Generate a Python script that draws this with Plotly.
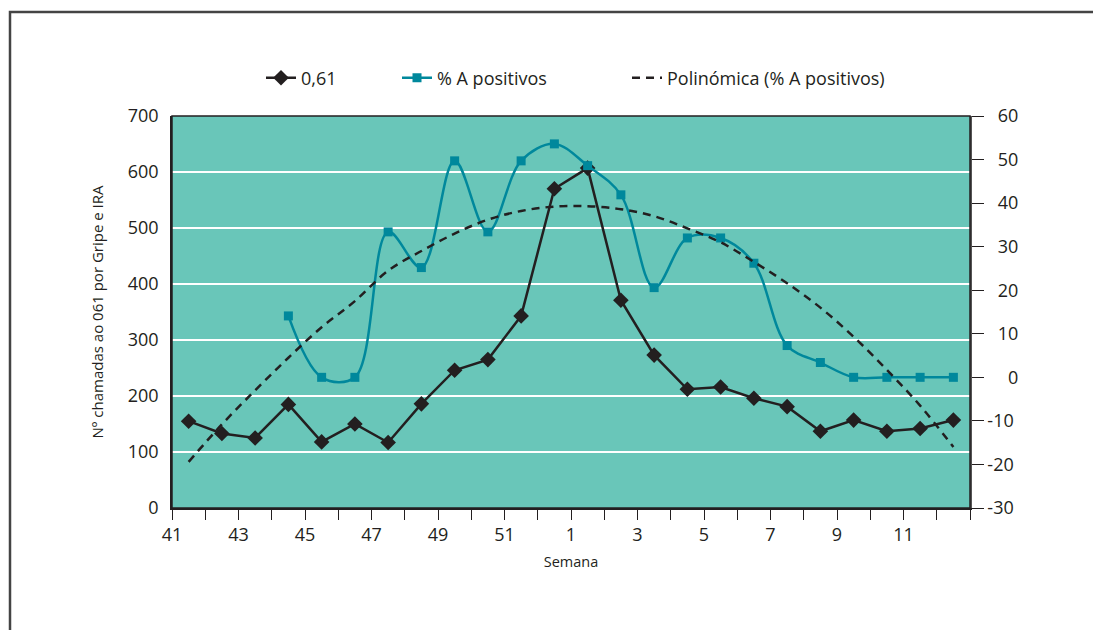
import plotly.graph_objects as go

# Weeks of the 2008/2009 season, 41..52 then 1..12
weeks = [41, 42, 43, 44, 45, 46, 47, 48, 49, 50, 51, 52,
         1, 2, 3, 4, 5, 6, 7, 8, 9, 10, 11, 12]

# Calls to 061 for influenza / acute respiratory infection (left axis)
chamadas = [155, 133, 125, 185, 118, 150, 117, 186, 246, 265, 343, 570,
            607, 371, 273, 212, 216, 196, 181, 137, 157, 137, 142, 157]

# Percentage of positive influenza A samples (right axis)
pct_a = [None, None, None, 14.1, 0.0, 0.0, 33.4, 25.2, 49.7, 33.4, 49.7, 53.6,
         48.6, 41.9, 20.6, 32.0, 32.0, 26.2, 7.3, 3.4, 0.0, 0.0, 0.0, 0.0]

# Polynomial trend of % A positivos (right axis)
tendencia = [-19.4, -10.8, -3.0, 4.5, 11.5, 17.5, 24.5, 29.0, 33.0, 36.2, 38.2, 39.2,
             39.3, 38.6, 37.0, 34.2, 31.0, 26.5, 21.6, 16.0, 9.3, 1.7, -6.5, -16.0]

left_ticks = [0, 100, 200, 300, 400, 500, 600, 700]
right_ticks = [-30, -20, -10, 0, 10, 20, 30, 40, 50, 60]

# points sit in the middle of each week slot; ticks mark the slot boundaries
xpos = [i + 0.5 for i in range(len(weeks))]
xtickvals = list(range(len(weeks) + 1))
xticktext = [str(weeks[i]) if (i < len(weeks) and i % 2 == 0) else "" for i in xtickvals]

INK = "#231F20"
TEAL = "#00889C"
BG = "#69C6B9"
FONT = "Open Sans"

fig = go.Figure()

fig.add_trace(go.Scatter(
    x=xpos, y=chamadas, name="0,61", mode="lines+markers",
    line=dict(color=INK, width=2.5),
    marker=dict(symbol="diamond", size=12, color=INK),
    yaxis="y", legend="legend",
))

fig.add_trace(go.Scatter(
    x=xpos, y=pct_a, name="% A positivos", mode="lines+markers",
    line=dict(color=TEAL, width=2.5, shape="spline", smoothing=1),
    marker=dict(symbol="square", size=9, color=TEAL),
    connectgaps=False, yaxis="y2", legend="legend2",
))

fig.add_trace(go.Scatter(
    x=xpos, y=tendencia, name="Polinómica (% A positivos)", mode="lines",
    line=dict(color=INK, width=2.5, dash="8px,6px", shape="spline", smoothing=1),
    yaxis="y2", legend="legend3",
))

# right-axis labels padded with figure spaces so they line up on the right
def pad(v):
    s = str(v)
    return "\u2007" * (3 - len(s)) + s

legend_common = dict(
    orientation="h", xref="container", yref="container",
    yanchor="middle", xanchor="left", y=1 - 78 / 630,
    font=dict(family=FONT, size=18, color=INK),
    bgcolor="rgba(0,0,0,0)", borderwidth=0,
)

fig.update_layout(
    width=1093, height=630,
    margin=dict(l=172, r=123, t=116, b=122, autoexpand=False),
    paper_bgcolor="white",
    plot_bgcolor=BG,
    font=dict(family=FONT, color=INK),
    xaxis=dict(
        range=[0, len(weeks)], tickvals=xtickvals, ticktext=xticktext,
        ticks="outside", ticklen=10, tickwidth=1.2, tickcolor=INK,
        showline=True, linecolor=INK, linewidth=1.5,
        showgrid=False, zeroline=False, automargin=False,
        tickfont=dict(family=FONT, size=18, color=INK),
        title=dict(text="Semana", font=dict(family=FONT, size=14.5, color=INK), standoff=12),
    ),
    yaxis=dict(
        range=[0, 700], tickvals=left_ticks,
        showline=True, linecolor=INK, linewidth=1.5,
        showgrid=True, gridcolor="white", gridwidth=1.5, zeroline=False,
        ticks="", ticklabelstandoff=8, automargin=False,
        tickfont=dict(family=FONT, size=18, color=INK),
        title=dict(text="Nº chamadas ao 061 por Gripe e IRA",
                   font=dict(family=FONT, size=15, color=INK), standoff=21),
    ),
    yaxis2=dict(
        range=[-30, 60], tickvals=right_ticks, ticktext=[pad(v) for v in right_ticks],
        overlaying="y", side="right",
        showline=True, linecolor="#555555", linewidth=1.5,
        showgrid=False, zeroline=False, automargin=False,
        ticks="outside", ticklen=12, tickwidth=1.2, tickcolor=INK,
        tickfont=dict(family=FONT, size=18, color=INK),
    ),
    legend=dict(legend_common, x=261 / 1093),
    legend2=dict(legend_common, x=397 / 1093),
    legend3=dict(legend_common, x=627 / 1093),
    showlegend=True,
)

# plot-area border and outer frame
fig.add_shape(type="rect", xref="paper", yref="paper", x0=0, y0=0, x1=1, y1=1,
              line=dict(color=INK, width=1.5), layer="above")
fig.add_shape(type="rect", xref="paper", yref="paper",
              x0=(10 - 172) / 798, y0=-1.0, x1=1.5, y1=(508 - 12) / 392,
              line=dict(color="#444444", width=2.5), layer="above")

fig.write_html("out.html")
